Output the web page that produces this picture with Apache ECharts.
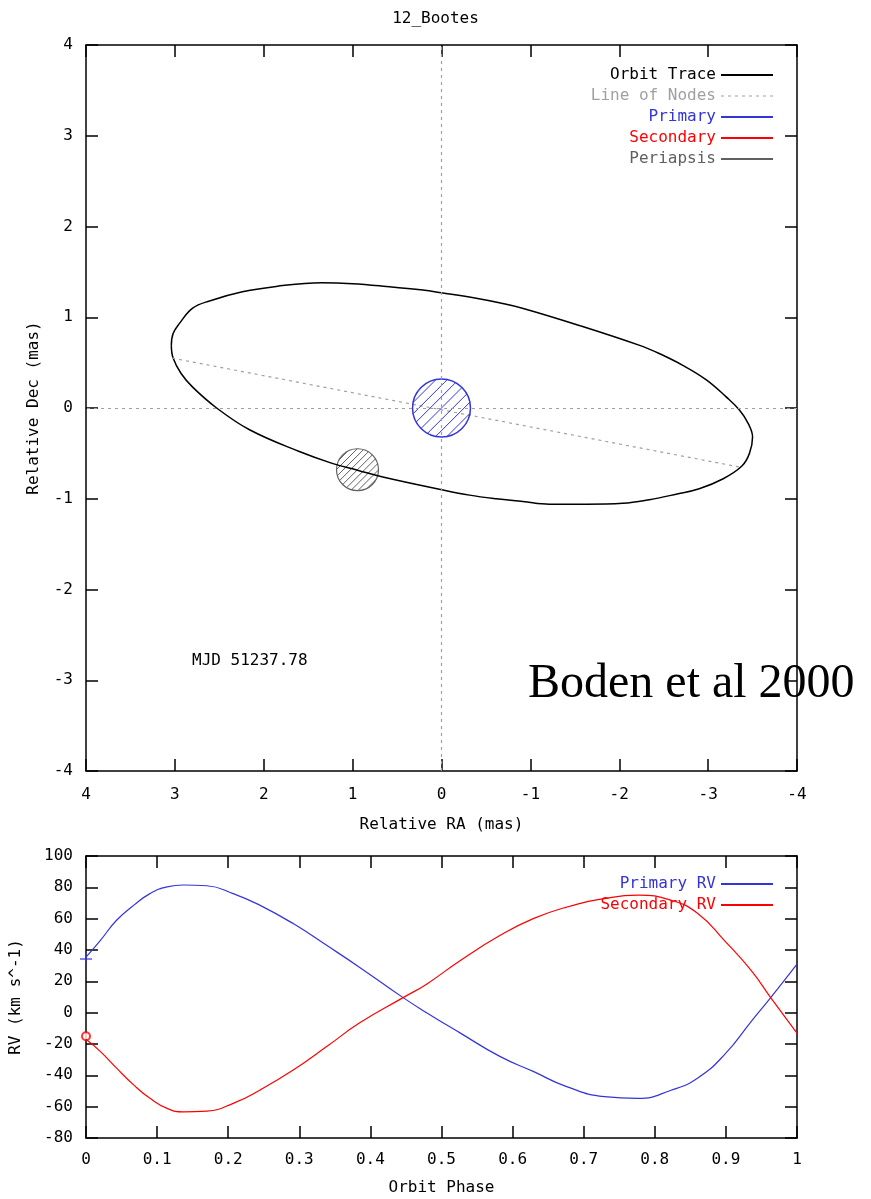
<!DOCTYPE html>
<html>
<head>
<meta charset="utf-8">
<title>12_Bootes</title>
<script src="https://cdn.jsdelivr.net/npm/echarts@6/dist/echarts.min.js"></script>
<style>
  html, body { margin: 0; padding: 0; background: #fff; }
  #chart { width: 871px; height: 1199px; }
</style>
</head>
<body>
<div id="chart"></div>
<script>
// orbit trace (relative RA / Dec, mas)
const orbitRA = [3.04, 3.02, 2.95, 2.80, 2.61, 2.24, 1.86, 1.35, 1.00, 0.62, 0.21, 0.00, -0.39, -0.65,
  -0.91, -1.55, -2.23, -2.45, -2.715, -2.98, -3.20, -3.35, -3.45, -3.50, -3.465, -3.38, -3.17, -2.90,
  -2.64, -2.34, -2.04, -1.63, -1.215, -0.915, -0.615, -0.315, 0.00, 0.66, 0.945, 1.23, 1.60, 2.16,
  2.53, 2.80, 2.93, 3.02, 3.04];
const orbitDec = [0.69, 0.82, 0.93, 1.10, 1.18, 1.28, 1.34, 1.38, 1.37, 1.34, 1.30, 1.27, 1.21, 1.16,
  1.10, 0.91, 0.69, 0.60, 0.47, 0.31, 0.125, -0.02, -0.17, -0.32, -0.50, -0.64, -0.78, -0.89,
  -0.95, -1.01, -1.05, -1.06, -1.06, -1.03, -1.00, -0.96, -0.90, -0.76, -0.685, -0.61, -0.48, -0.24,
  0.00, 0.23, 0.38, 0.55, 0.69];
// line of nodes end points
const nodesRA = [3.03, -3.35];
const nodesDec = [0.55, -0.65];
// [RA, Dec, radius]
const primaryStar = [[0, 0, 0.326]];
const periapsisStar = [[0.945, -0.68, 0.236]];

// radial velocity curves
const phase = [0, 0.02, 0.043, 0.067, 0.09, 0.114, 0.137, 0.17, 0.207, 0.245, 0.292, 0.339, 0.385, 0.446,
  0.479, 0.526, 0.582, 0.629, 0.676, 0.729, 0.776, 0.823, 0.86, 0.898, 0.936, 0.963, 1.0];
const primaryRV = [35.5, 46, 59, 68.5, 76, 80.3, 81.5, 81, 76, 68.5, 56.7, 42.8, 28.9, 9.6,
  0, -12.9, -27.9, -37.5, -47.2, -53.6, -54.7, -49.5, -41.8, -26.8, -5.4, 9.6, 31];
const secondaryRV = [-17, -24.7, -35.4, -46.1, -54.7, -61.1, -63.3, -62.8, -57.9, -49.3, -36.5, -21.5, -6.5, 9.6,
  18.2, 33.2, 49.2, 60, 67.4, 72.8, 75, 71.7, 63.5, 46, 26.7, 9.6, -13];
const primaryObs = [[0, 34.3]];
const secondaryObs = [[0, -15]];

const FONT = "DejaVu Sans Mono";
const BLUE = "#3434d8";
const RED = "#ff0000";
const GREY = "#606060";
const LIGHT = "#a0a0a0";

const zip = (a, b) => a.map((v, i) => [v, b[i]]);

// circle with "/" hatching, drawn through the axes
function hatchedCircle(spacing, lw) {
  return function (params, api) {
    const c = api.coord([api.value(0), api.value(1)]);
    const r = Math.abs(api.size([api.value(2), 0])[0]);
    const color = api.visual("color");
    const children = [{
      type: "circle",
      shape: { cx: c[0], cy: c[1], r: r },
      style: { fill: "none", stroke: color, lineWidth: lw }
    }];
    const n = Math.floor(r / spacing);
    for (let k = -n; k <= n; k++) {
      const d = k * spacing;
      const h = Math.sqrt(r * r - d * d);
      const mx = c[0] + d / Math.SQRT2;
      const my = c[1] + d / Math.SQRT2;
      children.push({
        type: "line",
        shape: { x1: mx - h / Math.SQRT2, y1: my + h / Math.SQRT2, x2: mx + h / Math.SQRT2, y2: my - h / Math.SQRT2 },
        style: { stroke: color, lineWidth: 1 }
      });
    }
    return { type: "group", children: children };
  };
}

let dots = "path://";
for (let i = 0; i < 8; i++) dots += "M" + i * 7 + ",0h3v1h-3z";

const labelStyle = { fontFamily: FONT, fontSize: 16, color: "#000" };
const axisLine = { onZero: false, lineStyle: { color: "#000", width: 1.5 } };
const tick = { inside: true, length: 12, lineStyle: { color: "#000", width: 1.5 } };

function mirrorAxis(grid, pos, min, max, interval) {
  return {
    type: "value", gridIndex: grid, position: pos, min: min, max: max, interval: interval,
    inverse: grid === 0 && pos === "top",
    axisLine: axisLine, axisTick: tick, axisLabel: { show: false }, splitLine: { show: false }
  };
}

const chart = echarts.init(document.getElementById("chart"));

const option = {
  backgroundColor: "#fff",
  animation: false,
  textStyle: { fontFamily: FONT },
  title: {
    text: "12_Bootes", left: "center", top: 6,
    textStyle: { fontFamily: FONT, fontSize: 16, fontWeight: "normal", color: "#000" }
  },
  grid: [
    { left: 86, top: 45, width: 711, height: 726 },
    { left: 86, top: 856, width: 711, height: 282 }
  ],
  xAxis: [
    {
      type: "value", gridIndex: 0, position: "bottom", min: -4, max: 4, interval: 1, inverse: true,
      name: "Relative RA (mas)", nameLocation: "middle", nameGap: 46, nameTextStyle: labelStyle,
      axisLine: axisLine, axisTick: tick, axisLabel: Object.assign({ margin: 16 }, labelStyle),
      splitLine: { show: false }
    },
    mirrorAxis(0, "top", -4, 4, 1),
    {
      type: "value", gridIndex: 1, position: "bottom", min: 0, max: 1, interval: 0.1,
      name: "Orbit Phase", nameLocation: "middle", nameGap: 42, nameTextStyle: labelStyle,
      axisLine: axisLine, axisTick: tick,
      axisLabel: Object.assign({ margin: 14, formatter: v => String(+v.toFixed(1)) }, labelStyle),
      splitLine: { show: false }
    },
    mirrorAxis(1, "top", 0, 1, 0.1)
  ],
  yAxis: [
    {
      type: "value", gridIndex: 0, position: "left", min: -4, max: 4, interval: 1,
      name: "Relative Dec (mas)", nameLocation: "middle", nameGap: 44, nameTextStyle: labelStyle,
      axisLine: axisLine, axisTick: tick, axisLabel: Object.assign({ margin: 13 }, labelStyle),
      splitLine: { show: false }
    },
    mirrorAxis(0, "right", -4, 4, 1),
    {
      type: "value", gridIndex: 1, position: "left", min: -80, max: 100, interval: 20,
      name: "RV (km s^-1)", nameLocation: "middle", nameGap: 62, nameTextStyle: labelStyle,
      axisLine: axisLine, axisTick: tick, axisLabel: Object.assign({ margin: 13 }, labelStyle),
      splitLine: { show: false }
    },
    mirrorAxis(1, "right", -80, 100, 20)
  ],
  legend: [
    {
      orient: "vertical", right: 93, top: 62, align: "right", itemWidth: 52, itemHeight: 2, itemGap: 5,
      textStyle: labelStyle,
      data: [
        { name: "Orbit Trace", icon: "rect", textStyle: { color: "#000" } },
        { name: "Line of Nodes", icon: dots, textStyle: { color: LIGHT } },
        { name: "Primary", icon: "rect", textStyle: { color: BLUE } },
        { name: "Secondary", icon: "rect", textStyle: { color: RED } },
        { name: "Periapsis", icon: "rect", textStyle: { color: GREY } }
      ]
    },
    {
      orient: "vertical", right: 93, top: 871, align: "right", itemWidth: 52, itemHeight: 2, itemGap: 5,
      textStyle: labelStyle,
      data: [
        { name: "Primary RV", icon: "rect", textStyle: { color: BLUE } },
        { name: "Secondary RV", icon: "rect", textStyle: { color: RED } }
      ]
    }
  ],
  graphic: [
    {
      type: "text", left: 192, top: 653,
      style: { text: "MJD 51237.78", font: "16px " + FONT, fill: "#000" }
    },
    {
      type: "text", left: 528, top: 660,
      style: { text: "Boden et al 2000", font: "48px 'Liberation Serif'", fill: "#000" }
    }
  ],
  series: [
    {
      name: "Orbit Trace", type: "line", xAxisIndex: 0, yAxisIndex: 0,
      data: zip(orbitRA, orbitDec), smooth: 0.4, symbol: "none", color: "#000",
      lineStyle: { color: "#000", width: 1.5 },
      markLine: {
        silent: true, symbol: "none", label: { show: false },
        lineStyle: { color: LIGHT, type: [3, 4], width: 1.2 },
        data: [{ xAxis: 0 }, { yAxis: 0 }]
      },
      z: 3
    },
    {
      name: "Line of Nodes", type: "line", xAxisIndex: 0, yAxisIndex: 0,
      data: zip(nodesRA, nodesDec), symbol: "none", color: LIGHT,
      lineStyle: { color: LIGHT, width: 1.2, type: [3, 4] }
    },
    {
      name: "Primary", type: "custom", xAxisIndex: 0, yAxisIndex: 0, color: BLUE,
      renderItem: hatchedCircle(8, 1.5), data: primaryStar, z: 4
    },
    {
      name: "Secondary", type: "line", xAxisIndex: 0, yAxisIndex: 0, color: RED, data: []
    },
    {
      name: "Periapsis", type: "custom", xAxisIndex: 0, yAxisIndex: 0, color: GREY,
      renderItem: hatchedCircle(5, 1.2), data: periapsisStar, z: 2
    },
    {
      name: "Primary RV", type: "line", xAxisIndex: 2, yAxisIndex: 2,
      data: zip(phase, primaryRV), smooth: 0.5, symbol: "none", color: BLUE,
      lineStyle: { color: BLUE, width: 1.2 }
    },
    {
      name: "Secondary RV", type: "line", xAxisIndex: 2, yAxisIndex: 2,
      data: zip(phase, secondaryRV), smooth: 0.5, symbol: "none", color: RED,
      lineStyle: { color: RED, width: 1.2 }
    },
    {
      name: "Primary obs", type: "scatter", xAxisIndex: 2, yAxisIndex: 2, data: primaryObs,
      symbol: "path://M4.4,0h1.2v10h-1.2z M0,4.4h10v1.2h-10z", symbolSize: 12,
      itemStyle: { color: BLUE }, clip: false
    },
    {
      name: "Secondary obs", type: "scatter", xAxisIndex: 2, yAxisIndex: 2, data: secondaryObs,
      symbol: "emptyCircle", symbolSize: 8,
      itemStyle: { color: RED, borderColor: RED, borderWidth: 1.2 }, clip: false
    }
  ]
};

chart.setOption(option);
window.addEventListener("resize", () => {
  if (chart) chart.resize();
});
</script>
</body>
</html>
